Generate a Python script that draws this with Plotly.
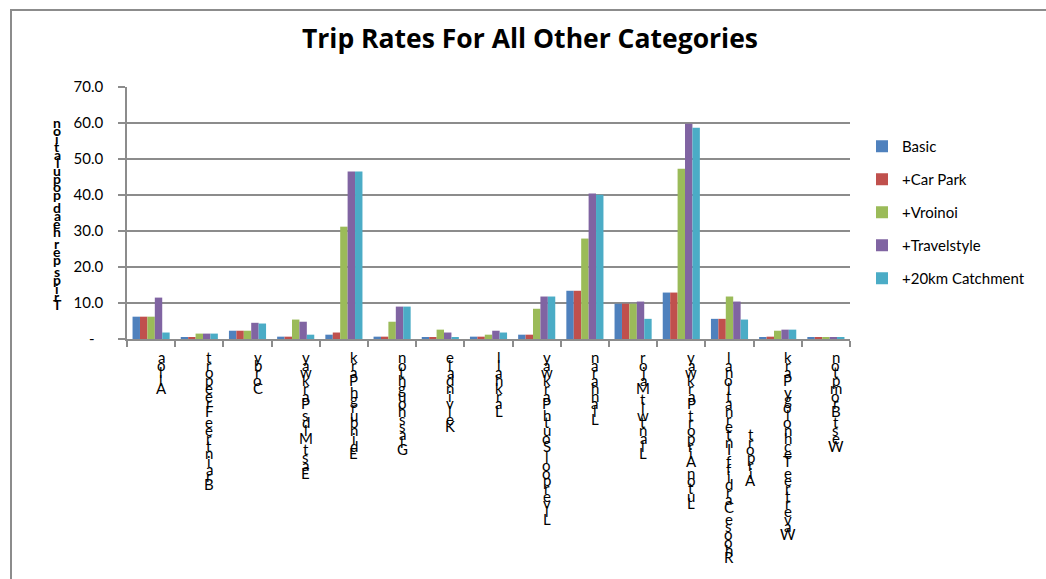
import plotly.graph_objects as go

# ---------------- data ----------------
categories = [
    "Alloa", "Braintree Freeport", "Corby", "East Mids Parkway", "Edinburgh Park",
    "Glasshoughton", "Kelvindale", "Larkhall", "Liverpool South Parkway", "Llanharan",
    "Llantwit Major", "Luton Airport Parkway", "Rhoose Cardiff International Airport",
    "Wavertree Technology Park", "West Brompton",
]
series_names = ["Basic", "+Car Park", "+Vroinoi", "+Travelstyle", "+20km Catchment"]
basic = [6.2, 0.4, 2.3, 0.65, 1.2, 0.65, 0.4, 0.65, 1.2, 13.4, 9.8, 12.9, 5.6, 0.4, 0.4]
car_park = [6.2, 0.4, 2.3, 0.65, 1.8, 0.65, 0.4, 0.65, 1.2, 13.4, 9.8, 12.9, 5.6, 0.65, 0.4]
vroinoi = [6.2, 1.5, 2.3, 5.4, 31.2, 4.8, 2.6, 1.2, 8.4, 27.9, 9.8, 47.3, 11.8, 2.3, 0.4]
travelstyle = [11.5, 1.5, 4.5, 4.8, 46.5, 9.0, 1.8, 2.3, 11.8, 40.4, 10.4, 59.8, 10.4, 2.6, 0.4]
catchment = [1.8, 1.5, 4.3, 1.2, 46.5, 9.0, 0.4, 1.8, 11.8, 40.1, 5.6, 58.7, 5.4, 2.6, 0.4]
y_tick_vals = [0, 10, 20, 30, 40, 50, 60, 70]
y_tick_text = ["-\u2007", "10.0", "20.0", "30.0", "40.0", "50.0", "60.0", "70.0"]
title_text = "Trip Rates For All Other Categories"
y_title = "Trips per head population"

colors = ["#4F81BD", "#C0504D", "#9BBB59", "#8064A2", "#4BACC6"]
FONT = "Lato"
GRID = "#8c8c8c"

fig = go.Figure()
for name, vals, col in zip(series_names, [basic, car_park, vroinoi, travelstyle, catchment], colors):
    fig.add_bar(x=categories, y=vals, name=name, marker_color=col, legendgroup=name,
                marker_line_width=0)

# ---------- stacked (Excel-style) text helpers ----------
STEP = 7.7


def wrap(text, width=28):
    lines, cur = [], ""
    for w in text.split(" "):
        if cur and len(cur) + 1 + len(w) > width:
            lines.append(cur)
            cur = w
        else:
            cur = w if not cur else cur + " " + w
    lines.append(cur)
    return lines


def stacked(line):
    out, pos = [], 0.0
    for ch in reversed(line):
        if ch == " ":
            pos += 0.5
            continue
        out.append((ch, pos))
        pos += 1
    return out, pos - 1


annotations = []
for cat in categories:
    lines = wrap(cat)
    stacks = [stacked(l) for l in lines]
    longest = max(s[1] for s in stacks)
    n = len(lines)
    for j, (chars, length) in enumerate(stacks):
        xs = 10 + (j - (n - 1) / 2) * 22
        off = (longest - length) / 2 if j > 0 else 0
        for ch, pos in chars:
            annotations.append(dict(
                x=cat, xref="x", y=0, yref="paper", yanchor="middle", xanchor="center",
                xshift=xs, yshift=-(18 + (pos + off) * STEP), text=ch, showarrow=False,
                font=dict(family=FONT, size=15, color="black")))

ychars, _ = stacked(y_title)
for ch, pos in ychars:
    annotations.append(dict(
        x=0, xref="paper", y=1, yref="paper", xanchor="center", yanchor="middle",
        xshift=-70, yshift=-(35 + pos * 8.1), text="<b>" + ch + "</b>", showarrow=False,
        font=dict(family=FONT, size=14, color="black")))

fig.update_layout(
    width=1046, height=579,
    margin=dict(l=127, r=196, t=87, b=240, autoexpand=False),
    paper_bgcolor="white", plot_bgcolor="white",
    font=dict(family=FONT, size=15, color="black"),
    title=dict(text="<b>" + title_text + "</b>", x=530 / 1046, xref="container", xanchor="center",
               y=1 - 39 / 579, yref="container", yanchor="middle",
               font=dict(family="Open Sans", size=26.5, color="black")),
    barmode="group", bargap=0.23, bargroupgap=0,
    showlegend=True,
    legend=dict(x=862 / 1046, xref="container", xanchor="left",
                y=1 - 130 / 579, yref="container", yanchor="top",
                traceorder="grouped", tracegroupgap=10.5,
                font=dict(family=FONT, size=15, color="black"),
                bgcolor="rgba(0,0,0,0)"),
    annotations=annotations,
    shapes=[dict(type="rect", xref="paper", yref="paper",
                 x0=(11 - 127) / 723, x1=(1100 - 127) / 723,
                 y0=-(640 - 339) / 252, y1=1 + (87 - 10) / 252,
                 line=dict(color=GRID, width=2), fillcolor="rgba(0,0,0,0)", layer="below")],
)

fig.update_xaxes(type="category", showline=True, linecolor=GRID, linewidth=1.5,
                 ticks="outside", tickson="boundaries", ticklen=6, tickcolor=GRID, tickwidth=1.5,
                 showticklabels=False, showgrid=False, zeroline=False)
fig.update_yaxes(range=[0, 70], tickvals=y_tick_vals, ticktext=y_tick_text,
                 showline=True, linecolor=GRID, linewidth=1.5,
                 ticks="outside", ticklen=7, tickcolor=GRID, tickwidth=1.5,
                 ticklabelstandoff=12,
                 showgrid=True, gridcolor=GRID, gridwidth=1.5, zeroline=False,
                 tickfont=dict(family=FONT, size=15, color="black"))

fig.write_html("out.html")
